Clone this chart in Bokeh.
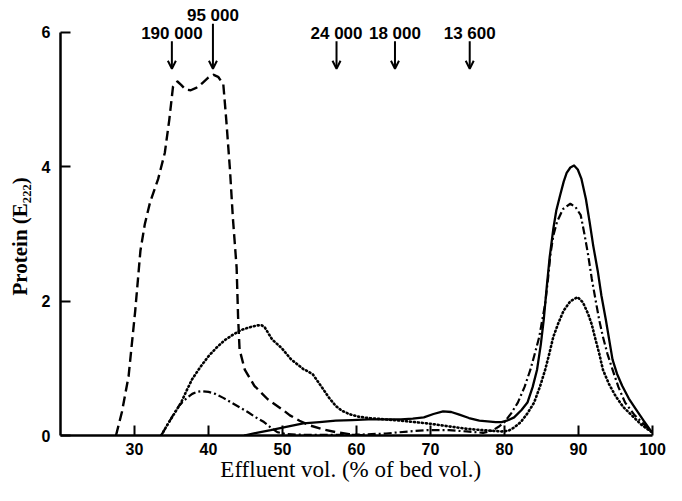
from bokeh.plotting import figure
from bokeh.models import Range1d, FixedTicker, Arrow, OpenHead, ColumnDataSource
from bokeh.core.properties import value
from bokeh.embed import file_html
from bokeh.resources import INLINE

# ---------------- data ----------------
dash_x = [27.5, 28.3, 29.2, 30.1, 30.8, 31.4, 32.1, 33.2, 34.1, 34.7, 35.2, 35.8, 36.3, 36.9,
          37.6, 38.4, 39.1, 40.0, 40.7, 41.3, 42.0, 42.4, 42.9, 43.3, 43.8, 44.0, 44.2, 44.9,
          46.2, 48.0, 50.2, 51.0, 52.3, 53.7, 55.5, 57.2, 59.0, 61.0]
dash_y = [0.0, 0.35, 0.88, 1.86, 2.75, 3.15, 3.47, 3.82, 4.21, 4.70, 5.19, 5.27, 5.22, 5.15,
          5.14, 5.18, 5.24, 5.33, 5.37, 5.34, 5.23, 4.70, 3.96, 3.23, 2.50, 1.76, 1.28, 0.98,
          0.74, 0.54, 0.37, 0.30, 0.22, 0.15, 0.09, 0.05, 0.02, 0.0]

dot_x = [33.6, 34.5, 35.4, 36.3, 37.0, 37.8, 38.9, 40.0, 41.1, 42.2, 43.3, 44.4, 45.5, 46.6,
         47.2, 47.6, 48.1, 48.6, 49.3, 49.9, 50.5, 51.2, 52.0, 52.8, 53.5, 54.1, 54.8, 55.5,
         56.3, 57.2, 58.0, 59.0, 60.3, 61.6, 63.8, 66.0, 67.8, 69.6, 72.2, 74.9, 77.0, 78.4,
         79.6, 80.5, 81.3, 82.2, 83.1, 84.0, 84.8, 85.5, 86.1, 86.6, 87.3, 88.0, 88.9, 89.9,
         90.6, 91.3, 91.8, 92.2, 92.8, 93.3, 94.1, 95.0, 96.0, 97.2, 98.5, 99.9]
dot_y = [0.0, 0.17, 0.33, 0.49, 0.66, 0.84, 1.02, 1.18, 1.31, 1.42, 1.50, 1.57, 1.61, 1.64,
         1.64, 1.61, 1.52, 1.43, 1.36, 1.30, 1.22, 1.13, 1.06, 0.99, 0.95, 0.91, 0.80, 0.69,
         0.56, 0.44, 0.37, 0.32, 0.28, 0.26, 0.24, 0.22, 0.20, 0.18, 0.14, 0.10, 0.08, 0.07,
         0.06, 0.07, 0.12, 0.20, 0.33, 0.49, 0.73, 0.98, 1.24, 1.47, 1.68, 1.86, 2.00, 2.06,
         1.98, 1.81, 1.65, 1.47, 1.22, 0.98, 0.77, 0.59, 0.43, 0.30, 0.16, 0.05]

dashdot_x = [33.6, 34.4, 35.3, 36.0, 36.5, 37.2, 37.8, 38.5, 39.1, 40.0, 40.9, 42.0, 43.1, 44.2,
             45.3, 46.4, 47.5, 48.4, 49.3, 50.5, 53.0, 56.0, 60.0, 64.0, 67.0, 69.6, 72.5, 74.9,
             77.1, 78.3, 79.2, 80.0, 80.9, 81.8, 82.7, 83.5, 84.1, 84.7, 85.1, 85.5, 85.9, 86.2,
             86.6, 87.1, 87.9, 88.9, 89.6, 90.3, 90.8, 91.3, 91.8, 92.4, 92.8, 93.3, 93.9, 94.6,
             95.4, 96.3, 97.6, 99.0, 99.9]
dashdot_y = [0.0, 0.15, 0.32, 0.44, 0.50, 0.57, 0.62, 0.65, 0.66, 0.65, 0.62, 0.56, 0.49, 0.42,
             0.35, 0.27, 0.20, 0.12, 0.05, 0.02, 0.01, 0.01, 0.01, 0.03, 0.06, 0.08, 0.08, 0.06,
             0.04, 0.07, 0.13, 0.20, 0.33, 0.49, 0.72, 0.98, 1.22, 1.47, 1.72, 1.96, 2.35, 2.69,
             2.98, 3.18, 3.37, 3.45, 3.40, 3.28, 3.00, 2.69, 2.33, 1.96, 1.72, 1.47, 1.22, 0.98,
             0.72, 0.49, 0.30, 0.15, 0.05]

solid_x = [44.8, 46.5, 48.4, 50.5, 52.8, 55.0, 57.2, 59.4, 61.6, 63.8, 66.0, 67.6, 69.1, 70.4,
           71.7, 72.8, 73.9, 75.2, 76.6, 77.7, 78.8, 79.6, 80.3, 81.3, 82.3, 83.1, 83.8, 84.4,
           84.9, 85.3, 85.7, 86.1, 86.6, 87.0, 87.5, 88.0, 88.4, 88.9, 89.4, 89.9, 90.4, 91.0,
           91.5, 92.0, 92.6, 93.1, 93.7, 94.6, 95.2, 95.9, 96.8, 97.7, 98.8, 99.9]
solid_y = [0.0, 0.04, 0.08, 0.13, 0.18, 0.20, 0.22, 0.23, 0.24, 0.24, 0.24, 0.25, 0.27, 0.32,
           0.36, 0.35, 0.31, 0.26, 0.22, 0.21, 0.20, 0.20, 0.22, 0.27, 0.38, 0.49, 0.72, 0.98,
           1.35, 1.72, 2.20, 2.65, 3.08, 3.35, 3.57, 3.78, 3.91, 3.99, 4.02, 3.96, 3.82, 3.52,
           3.18, 2.82, 2.45, 2.08, 1.72, 1.13, 0.92, 0.74, 0.55, 0.40, 0.22, 0.05]

marker_x = [35.05, 40.6, 57.3, 65.2, 75.3]
marker_labels = ["190 000", "95 000", "24 000", "18 000", "13 600"]

x_ticks = [30, 40, 50, 60, 70, 80, 90, 100]
y_ticks = [0, 2, 4, 6]

x_label = "Effluent vol. (% of bed vol.)"
y_label = "Protein (E\u2082\u2082\u2082)"

# ---------------- figure ----------------
p = figure(width=666, height=485, output_backend="svg", toolbar_location=None,
           title=None, x_range=Range1d(20, 100), y_range=Range1d(0, 6.476),
           min_border_left=60, min_border_right=14, min_border_top=0,
           min_border_bottom=50)
p.outline_line_color = None
p.xgrid.grid_line_color = None
p.ygrid.grid_line_color = None

for ax in (p.xaxis, p.yaxis):
    ax.axis_line_width = 2.5
    ax.axis_line_color = "black"
    ax.major_tick_line_width = 2
    ax.major_tick_line_color = "black"
    ax.major_tick_in = 10
    ax.major_tick_out = 0
    ax.minor_tick_line_color = None
    ax.major_label_text_font = "Liberation Sans"
    ax.major_label_text_font_style = "bold"
    ax.major_label_text_font_size = "16px"
    ax.major_label_text_color = "black"
    ax.axis_label_text_font = "Liberation Serif"
    ax.axis_label_text_color = "black"

p.yaxis.bounds = (0, 6)
p.xaxis.ticker = FixedTicker(ticks=x_ticks)
p.yaxis.ticker = FixedTicker(ticks=y_ticks)
p.xaxis.major_label_standoff = 7
p.yaxis.major_label_standoff = 10

# small trailing pad nudges the visible title slightly left, as in the original
p.xaxis.axis_label = x_label + "\u00a0" * 2
p.xaxis.axis_label_text_font_style = "normal"
p.xaxis.axis_label_text_font_size = "23px"
p.xaxis.axis_label_standoff = -1

# the frame also holds the marker labels above 6, so pad the title's far end
# (non-breaking spaces) to centre the visible text on the 0-6 axis
p.yaxis.axis_label = y_label + "\u00a0" * 7
p.yaxis.axis_label_text_font_style = "bold"
p.yaxis.axis_label_text_font_size = "21px"
p.yaxis.axis_label_standoff = 7

# ---------------- curves ----------------
p.line(dash_x, dash_y, line_color="black", line_width=2.4, line_dash="10 5", line_join="round")
p.line(dot_x, dot_y, line_color="black", line_width=2.6, line_dash="1 3",
       line_cap="round", line_join="round")
p.line(dashdot_x, dashdot_y, line_color="black", line_width=2.2, line_dash="8 3 2 3",
       line_join="round")
p.line(solid_x, solid_y, line_color="black", line_width=2.3, line_join="round")

# ---------------- molecular weight markers ----------------
tail = [5.87 if lab != "95 000" else 6.13 for lab in marker_labels]
tip = [5.46] * len(marker_x)
ly = [5.99 if lab != "95 000" else 6.25 for lab in marker_labels]
src = ColumnDataSource(dict(x=marker_x, y0=tail, y1=tip, ly=ly, t=marker_labels))
p.add_layout(Arrow(end=OpenHead(size=8, line_width=2, line_color="black"),
                   x_start="x", y_start="y0", x_end="x", y_end="y1",
                   line_width=2, line_color="black", source=src))
p.text(x="x", y="ly", text="t", source=src, text_align="center", text_baseline="middle",
       text_font=value("Liberation Sans"), text_font_style="bold", text_font_size="17px",
       text_color="black")

open("out.html", "w").write(file_html(p, INLINE))
